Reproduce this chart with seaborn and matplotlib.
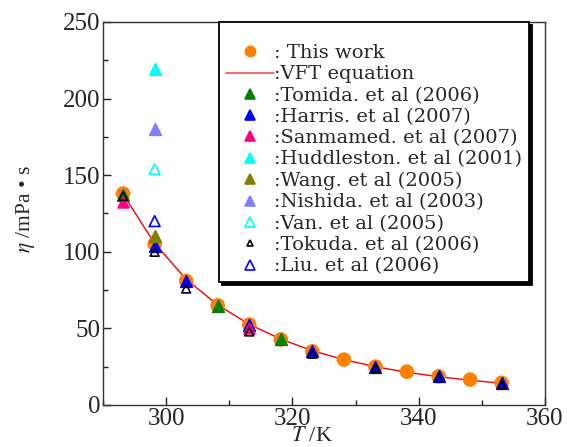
import matplotlib
matplotlib.use("Agg")
import matplotlib.pyplot as plt
import seaborn as sns
from matplotlib.lines import Line2D
from matplotlib.ticker import MultipleLocator

# Data (T in K, viscosity in mPa s)
T_this = [293.15, 298.15, 303.15, 308.15, 313.15, 318.15, 323.15, 328.15, 333.15, 338.15, 343.15, 348.15, 353.15]
eta_this = [138, 105, 81, 65, 52.5, 42.8, 35, 29.6, 25, 21.7, 18.7, 16.6, 14.4]
eta_vft = [137.5, 105.5, 82, 65.3, 52.6, 43, 35.4, 29.6, 25, 21.3, 18.5, 16.1, 14.2]

T_tomida = [293.15, 308.15, 318.15]
eta_tomida = [137, 64.5, 42.8]
T_harris = [298.15, 303.15, 313.15, 323.15, 333.15, 343.15, 353.15]
eta_harris = [104, 81, 52, 35, 25, 19, 14.5]
T_sanmamed = [293.15, 313.15]
eta_sanmamed = [132.5, 50.5]
T_huddleston = [298.15]
eta_huddleston = [219]
T_wang = [298.15]
eta_wang = [110.5]
T_nishida = [298.15]
eta_nishida = [180]
T_van = [298.15]
eta_van = [154]
T_tokuda = [293.15, 298.15, 303.15, 313.15, 323.15, 333.15, 343.15, 353.15]
eta_tokuda = [136.5, 100, 76, 48, 33.5, 24, 18, 13.5]
T_liu = [298.15]
eta_liu = [120]

sns.set_style("ticks")
plt.rcParams['font.family'] = ['Liberation Serif', 'DejaVu Serif']
plt.rcParams['mathtext.fontset'] = 'stix'

fig = plt.figure(figsize=(5.67, 4.47), dpi=100)
ax = fig.add_axes([0.182, 0.094, 0.779, 0.857])

sns.lineplot(x=T_this, y=eta_vft, color='#ff0000', lw=1.0, ax=ax)
sns.scatterplot(x=T_this, y=eta_this, marker='o', s=110, color='#ff8000', edgecolor='none', ax=ax, zorder=3)

# literature series: label, T, eta, face, edge, size
series = [
    (":Tomida. et al (2006)", T_tomida, eta_tomida, '#008000', '#008000', 70),
    (":Harris. et al (2007)", T_harris, eta_harris, '#0000ff', '#0000ff', 70),
    (":Sanmamed. et al (2007)", T_sanmamed, eta_sanmamed, '#ff0080', '#ff0080', 60),
    (":Huddleston. et al (2001)", T_huddleston, eta_huddleston, '#00ffff', '#00ffff', 70),
    (":Wang. et al (2005)", T_wang, eta_wang, '#808000', '#808000', 70),
    (":Nishida. et al (2003)", T_nishida, eta_nishida, '#8080ff', '#8080ff', 70),
    (":Van. et al (2005)", T_van, eta_van, 'none', '#00ffff', 60),
    (":Tokuda. et al (2006)", T_tokuda, eta_tokuda, 'none', '#000000', 40),
    (":Liu. et al (2006)", T_liu, eta_liu, 'none', '#0000ff', 60),
]
handles = [
    Line2D([], [], ls='none', marker='o', ms=8.5, color='#ff8000', mec='none'),
    Line2D([], [], color='#ff5050', lw=1.2),
]
labels = [": This work", ":VFT equation"]
for lab, tx, ey, fc, ec, s in series:
    sns.scatterplot(x=tx, y=ey, marker='^', s=s, facecolor=fc, edgecolor=ec,
                    linewidth=1.2, ax=ax, zorder=4)
    handles.append(Line2D([], [], ls='none', marker='^', ms=6.5 if s > 45 else 5,
                          mfc=fc, mec=ec, mew=1.2))
    labels.append(lab)

ax.set_xlim(290, 360)
ax.set_ylim(0, 250)
ax.xaxis.set_minor_locator(MultipleLocator(10))
ax.yaxis.set_major_locator(MultipleLocator(50))
ax.yaxis.set_minor_locator(MultipleLocator(25))
ax.set_xticks([300, 320, 340, 360])
ax.tick_params(which='both', direction='in', top=False, right=False, labelsize=18,
               width=1, color='#222222', pad=2)
ax.tick_params(which='major', length=6)
ax.tick_params(which='minor', length=3.5)
for sp in ax.spines.values():
    sp.set_visible(True)
    sp.set_color('#333333')
    sp.set_linewidth(1.0)

ax.set_xlabel(r'$T$ /K', fontsize=16)
ax.xaxis.set_label_coords(0.473, -0.058, transform=ax.transAxes)
ax.xaxis.label.set_va('top')
ax.set_ylabel(r'$\eta$ /mPa • s', fontsize=15.5)
ax.yaxis.set_label_coords(-0.15, 0.51)

leg = ax.legend(handles, labels, loc='upper left', bbox_to_anchor=(0.262, 1.0),
                prop={'family': 'DejaVu Serif', 'size': 14},
                title=' ', title_fontsize=9,
                frameon=True, fancybox=False,
                shadow={'color': 'black', 'alpha': 1.0},
                handlelength=2.5, handletextpad=0.0, labelspacing=0.17,
                borderpad=0.35, borderaxespad=0)
leg.get_frame().set_edgecolor('black')
leg.get_frame().set_linewidth(1.3)

fig.savefig("out.png", dpi=100)
